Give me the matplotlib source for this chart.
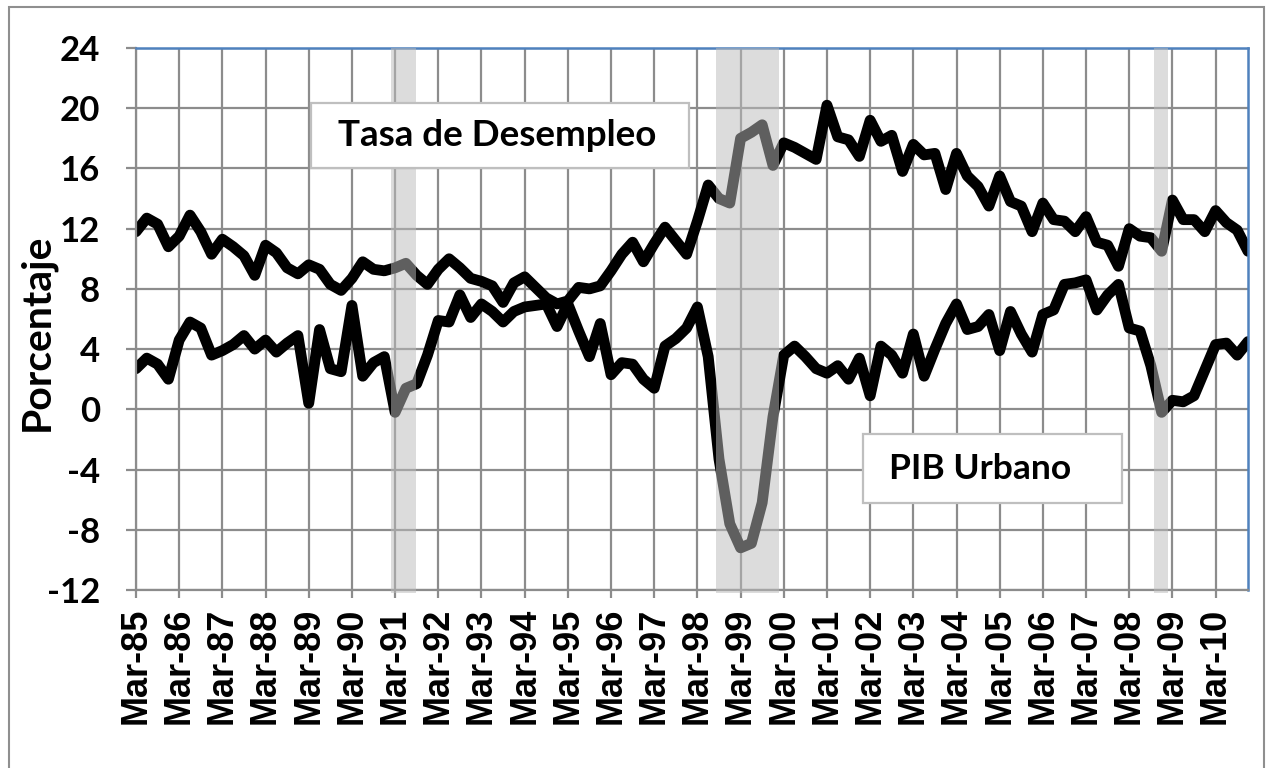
import matplotlib
matplotlib.use("Agg")
import matplotlib.pyplot as plt
from matplotlib.patches import Rectangle
import numpy as np

# ---------------- data ----------------
years = list(range(1985, 2011))
tick_labels = [f"Mar-{y % 100:02d}" for y in years]

# quarterly, Mar-85 ... Dec-10
desempleo = [11.8, 12.7, 12.3, 10.8, 11.5, 12.9, 11.8, 10.3, 11.3, 10.8,
             10.2, 8.9, 10.9, 10.4, 9.4, 9.0, 9.6, 9.3, 8.3, 7.9,
             8.7, 9.8, 9.3, 9.2, 9.4, 9.7, 8.9, 8.3, 9.3, 10.0,
             9.4, 8.7, 8.5, 8.2, 7.1, 8.4, 8.8, 8.1, 7.4, 7.0,
             7.2, 8.1, 8.0, 8.2, 9.2, 10.3, 11.1, 9.8, 11.0, 12.1,
             11.2, 10.3, 12.5, 14.9, 14.0, 13.7, 18.0, 18.4, 18.9, 16.2,
             17.7, 17.4, 17.0, 16.6, 20.2, 18.1, 17.9, 16.8, 19.2, 17.8,
             18.2, 15.8, 17.6, 16.9, 17.0, 14.6, 17.0, 15.5, 14.8, 13.5,
             15.5, 13.8, 13.5, 11.8, 13.7, 12.6, 12.5, 11.8, 12.8, 11.1,
             10.9, 9.5, 12.0, 11.5, 11.4, 10.5, 13.9, 12.6, 12.6, 11.8,
             13.2, 12.4, 11.9, 10.5]

pib_urbano = [2.7, 3.4, 3.0, 2.0, 4.6, 5.8, 5.4, 3.6, 3.9, 4.3,
              4.9, 4.0, 4.6, 3.8, 4.4, 4.9, 0.4, 5.3, 2.7, 2.5,
              6.9, 2.2, 3.1, 3.5, -0.2, 1.4, 1.7, 3.6, 5.9, 5.8,
              7.6, 6.1, 7.0, 6.5, 5.8, 6.5, 6.8, 6.9, 7.0, 5.5,
              7.0, 5.2, 3.5, 5.7, 2.3, 3.1, 3.0, 2.0, 1.4, 4.2,
              4.7, 5.4, 6.8, 3.5, -3.3, -7.6, -9.2, -8.9, -6.2, -0.5,
              3.6, 4.2, 3.5, 2.7, 2.4, 2.9, 2.0, 3.4, 0.9, 4.2,
              3.6, 2.4, 5.0, 2.2, 4.0, 5.7, 7.0, 5.3, 5.5, 6.3,
              3.9, 6.5, 5.0, 3.8, 6.3, 6.6, 8.3, 8.4, 8.6, 6.6,
              7.6, 8.3, 5.4, 5.2, 2.9, -0.2, 0.6, 0.5, 0.9, 2.6,
              4.3, 4.4, 3.6, 4.5]

# recession periods (in quarter index units from Mar-85)
recesiones = [(23.6, 25.9), (53.7, 59.6), (94.3, 95.6)]

y_ticks = list(range(-12, 25, 4))

# ---------------- figure ----------------
W, H = 1276, 768
fig = plt.figure(figsize=(W / 100, H / 100), dpi=100)
fig.patch.set_facecolor("white")

# outer chart frame
fig.add_artist(Rectangle((9 / W, -0.02), (1264 - 9) / W, 1 - 7 / H + 0.02,
                         transform=fig.transFigure, fill=False,
                         edgecolor="#8F8F8F", lw=1.5))

ax = fig.add_axes([136 / W, 1 - 590 / H, 1112 / W, 542 / H])

x = np.arange(len(desempleo))
line_kw = dict(color="black", lw=7.8, solid_joinstyle="round",
               solid_capstyle="round", zorder=2)
ax.plot(x, desempleo, **line_kw)
ax.plot(x, pib_urbano, **line_kw)

for a, b in recesiones:
    ax.axvspan(a, b, ymin=-0.006, ymax=1, color="#BBBBBB", alpha=0.514,
               lw=0, zorder=3, clip_on=False)

ax.set_xlim(0, len(x) - 1)
ax.set_ylim(-12, 24)
ax.set_yticks(y_ticks)
ax.set_yticklabels([str(v) for v in y_ticks], fontfamily="Lato",
                   fontweight="bold", fontsize=25)
ax.set_xticks(range(0, len(x), 4))
ax.set_xticklabels(tick_labels, rotation=90, fontfamily="Liberation Sans",
                   fontweight="bold", fontsize=26)

ax.set_axisbelow(True)
ax.grid(True, color="#8C8C8C", lw=1.6)

for side in ("left", "bottom"):
    ax.spines[side].set_color("#8C8C8C")
    ax.spines[side].set_linewidth(1.6)
for side in ("top", "right"):
    ax.spines[side].set_color("#4F81BD")
    ax.spines[side].set_linewidth(1.8)

ax.tick_params(axis="x", direction="out", length=6, width=1.6,
               color="#8C8C8C", pad=7)
ax.tick_params(axis="y", direction="out", length=7, width=1.6,
               color="#8C8C8C", pad=19)

# text boxes
ax.add_patch(Rectangle((0.157, 0.7786), 0.497 - 0.157, 0.8985 - 0.7786,
                       transform=ax.transAxes, facecolor="white",
                       edgecolor="#BFBFBF", lw=1.6, zorder=4))
ax.text(0.3245, 0.8386, "Tasa de Desempleo", transform=ax.transAxes,
        ha="center", va="center", fontfamily="Lato", fontweight="bold",
        fontsize=26.5, zorder=5)

ax.add_patch(Rectangle((0.654, 0.1605), 0.887 - 0.654, 0.288 - 0.1605,
                       transform=ax.transAxes, facecolor="white",
                       edgecolor="#BFBFBF", lw=1.6, zorder=4))
ax.text(0.759, 0.224, "PIB Urbano", transform=ax.transAxes,
        ha="center", va="center", fontfamily="Lato", fontweight="bold",
        fontsize=25.5, zorder=5)

fig.text(37 / W, 1 - 332 / H, "Porcentaje", rotation=90, ha="center",
         va="center", fontfamily="Lato", fontweight="bold", fontsize=29.5)

fig.savefig("out.png", dpi=100)
